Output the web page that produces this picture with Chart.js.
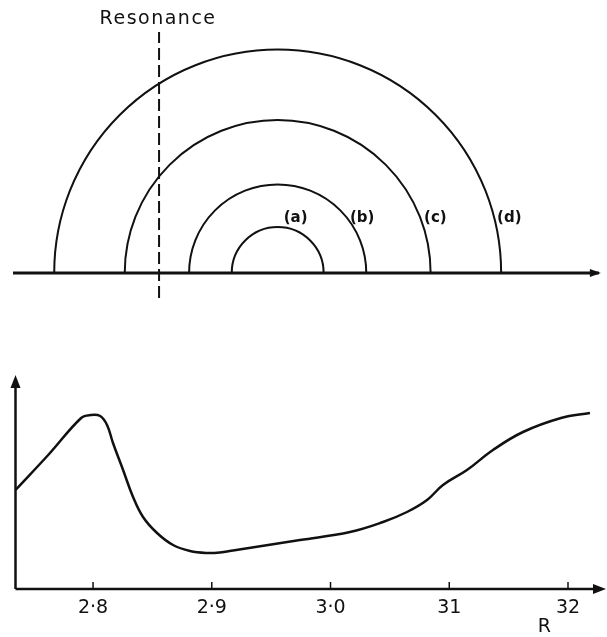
<!DOCTYPE html>
<html>
<head>
<meta charset="utf-8">
<script src="https://cdn.jsdelivr.net/npm/chart.js@4.4.1/dist/chart.umd.min.js"></script>
<style>
  html, body { margin: 0; padding: 0; background: #fff; }
  #wrap { position: relative; width: 607px; height: 637px; }
  #top { position: absolute; left: 0; top: 0; }
  #bottom { position: absolute; left: 0; top: 310px; }
</style>
</head>
<body>
<div id="wrap">
  <canvas id="top" width="607" height="310"></canvas>
  <canvas id="bottom" width="607" height="327"></canvas>
</div>
<script>
// Upper panel: flux surfaces (semicircles) about the axis, plus the resonance
const surfaceLabels = ['(a)', '(b)', '(c)', '(d)'];
const surfaceRadii = [0.0387, 0.0746, 0.1288, 0.1882];
const axisCentre = 2.9555;
const resonanceR = 2.8556;

// Lower panel: signal vs major radius R
const rValues = [2.7347, 2.7630, 2.7900, 2.7980, 2.8060, 2.8118, 2.8168, 2.8253, 2.8337, 2.8421,
  2.8539, 2.8674, 2.8817, 2.8960, 2.9069, 2.9179, 2.9743, 3.0164, 3.0442, 3.0644,
  3.0813, 3.0947, 3.1149, 3.1368, 3.1621, 3.1941, 3.2185];
const signal = [99, 135, 171, 174, 173, 164, 146, 119, 92, 72,
  56, 44, 38, 36, 36.5, 38.5, 49, 57, 67, 77,
  89, 104, 119, 139, 157, 171, 176];
const tickValues = [2.8, 2.9, 3.0, 3.1, 3.2];
const tickLabels = ['2·8', '2·9', '3·0', '31', '32'];

const rMin = 2.7347;
const rMax = 3.232;
const ink = '#111';
const font = 'DejaVu Sans';

function arrowHead(ctx, x, y, dir, len, half) {
  ctx.beginPath();
  if (dir === 'right') {
    ctx.moveTo(x, y);
    ctx.lineTo(x - len, y - half);
    ctx.lineTo(x - len, y + half);
  } else {
    ctx.moveTo(x, y);
    ctx.lineTo(x - half, y + len);
    ctx.lineTo(x + half, y + len);
  }
  ctx.closePath();
  ctx.fill();
}

// Draws the semicircles, their labels, baseline arrow and resonance caption
const surfacesPlugin = {
  id: 'surfaces',
  afterDatasetsDraw(chart) {
    const { ctx, scales: { x, y } } = chart;
    const cx = x.getPixelForValue(axisCentre);
    const cy = y.getPixelForValue(0);
    ctx.save();
    ctx.strokeStyle = ink;
    ctx.fillStyle = ink;
    ctx.lineWidth = 2;
    const h = 0.0463;
    surfaceRadii.forEach((r, i) => {
      const rx = x.getPixelForValue(axisCentre + r) - cx;
      const ry = cy - y.getPixelForValue(r);
      ctx.beginPath();
      ctx.ellipse(cx, cy, rx, ry, 0, Math.PI, 2 * Math.PI);
      ctx.stroke();
      const lx = x.getPixelForValue(axisCentre + Math.sqrt(Math.max(r * r - h * h, 0)));
      ctx.font = 'bold 15px ' + font;
      ctx.textAlign = 'center';
      ctx.textBaseline = 'middle';
      ctx.fillText(surfaceLabels[i], lx + (i === 0 ? 18 : 15), y.getPixelForValue(h));
    });
    // baseline arrow head
    const last = chart.data.datasets[1].data[1];
    arrowHead(ctx, x.getPixelForValue(last.x) + 2, cy, 'right', 11, 4);
    // caption
    ctx.font = '19px ' + font;
    ctx.letterSpacing = '1.5px';
    ctx.textAlign = 'center';
    ctx.textBaseline = 'middle';
    ctx.fillText('Resonance', x.getPixelForValue(resonanceR) - 1, 19);
    ctx.restore();
  }
};

new Chart(document.getElementById('top'), {
  type: 'scatter',
  data: {
    datasets: [
      {
        data: [{ x: resonanceR, y: -0.021 }, { x: resonanceR, y: 0.203 }],
        showLine: true,
        borderColor: ink,
        borderWidth: 2,
        borderDash: [12, 5],
        pointRadius: 0,
        clip: false
      },
      {
        data: [{ x: 2.7326, y: 0 }, { x: 3.226, y: 0 }],
        showLine: true,
        borderColor: ink,
        borderWidth: 3,
        pointRadius: 0,
        clip: false
      }
    ]
  },
  options: {
    responsive: false,
    animation: false,
    devicePixelRatio: 1,
    layout: { padding: { left: 15.5, right: 1, top: 10, bottom: 10 } },
    plugins: { legend: { display: false }, tooltip: { enabled: false } },
    scales: {
      x: { type: 'linear', min: rMin, max: rMax, display: false },
      y: { type: 'linear', min: -0.02274, max: 0.22147, display: false }
    }
  },
  plugins: [surfacesPlugin]
});

// Axes with arrows, inward tick marks and the R caption
const axesPlugin = {
  id: 'axes',
  afterDatasetsDraw(chart) {
    const { ctx, chartArea: a, scales: { x } } = chart;
    ctx.save();
    ctx.strokeStyle = ink;
    ctx.fillStyle = ink;
    ctx.lineWidth = 2.5;
    ctx.beginPath();
    ctx.moveTo(a.left, a.bottom);
    ctx.lineTo(a.right - 8, a.bottom);
    ctx.moveTo(a.left, a.bottom);
    ctx.lineTo(a.left, a.top + 8);
    ctx.stroke();
    arrowHead(ctx, a.right, a.bottom, 'right', 13, 5);
    arrowHead(ctx, a.left, a.top, 'up', 13, 5);
    ctx.lineWidth = 1.5;
    tickValues.forEach(v => {
      const px = x.getPixelForValue(v);
      ctx.beginPath();
      ctx.moveTo(px, a.bottom);
      ctx.lineTo(px, a.bottom - 7);
      ctx.stroke();
    });
    ctx.font = '19px ' + font;
    ctx.textAlign = 'center';
    ctx.textBaseline = 'middle';
    ctx.fillText('R', x.getPixelForValue(3.18), a.bottom + 38);
    ctx.restore();
  }
};

new Chart(document.getElementById('bottom'), {
  type: 'line',
  data: {
    datasets: [{
      data: rValues.map((r, i) => ({ x: r, y: signal[i] })),
      borderColor: ink,
      borderWidth: 2.5,
      pointRadius: 0,
      tension: 0.4,
      fill: false
    }]
  },
  options: {
    responsive: false,
    animation: false,
    devicePixelRatio: 1,
    layout: { padding: { left: 15.5, right: 1, top: 65, bottom: 0 } },
    plugins: { legend: { display: false }, tooltip: { enabled: false } },
    scales: {
      x: {
        type: 'linear',
        min: rMin,
        max: rMax,
        grid: { display: false, drawTicks: false },
        border: { display: false },
        afterBuildTicks: s => { s.ticks = tickValues.map(v => ({ value: v })); },
        afterFit: s => { s.height = 48; },
        ticks: {
          padding: 8,
          color: ink,
          font: { family: font, size: 19 },
          callback: (v, i) => tickLabels[i]
        }
      },
      y: { min: 0, max: 214, display: false }
    }
  },
  plugins: [axesPlugin]
});
</script>
</body>
</html>
